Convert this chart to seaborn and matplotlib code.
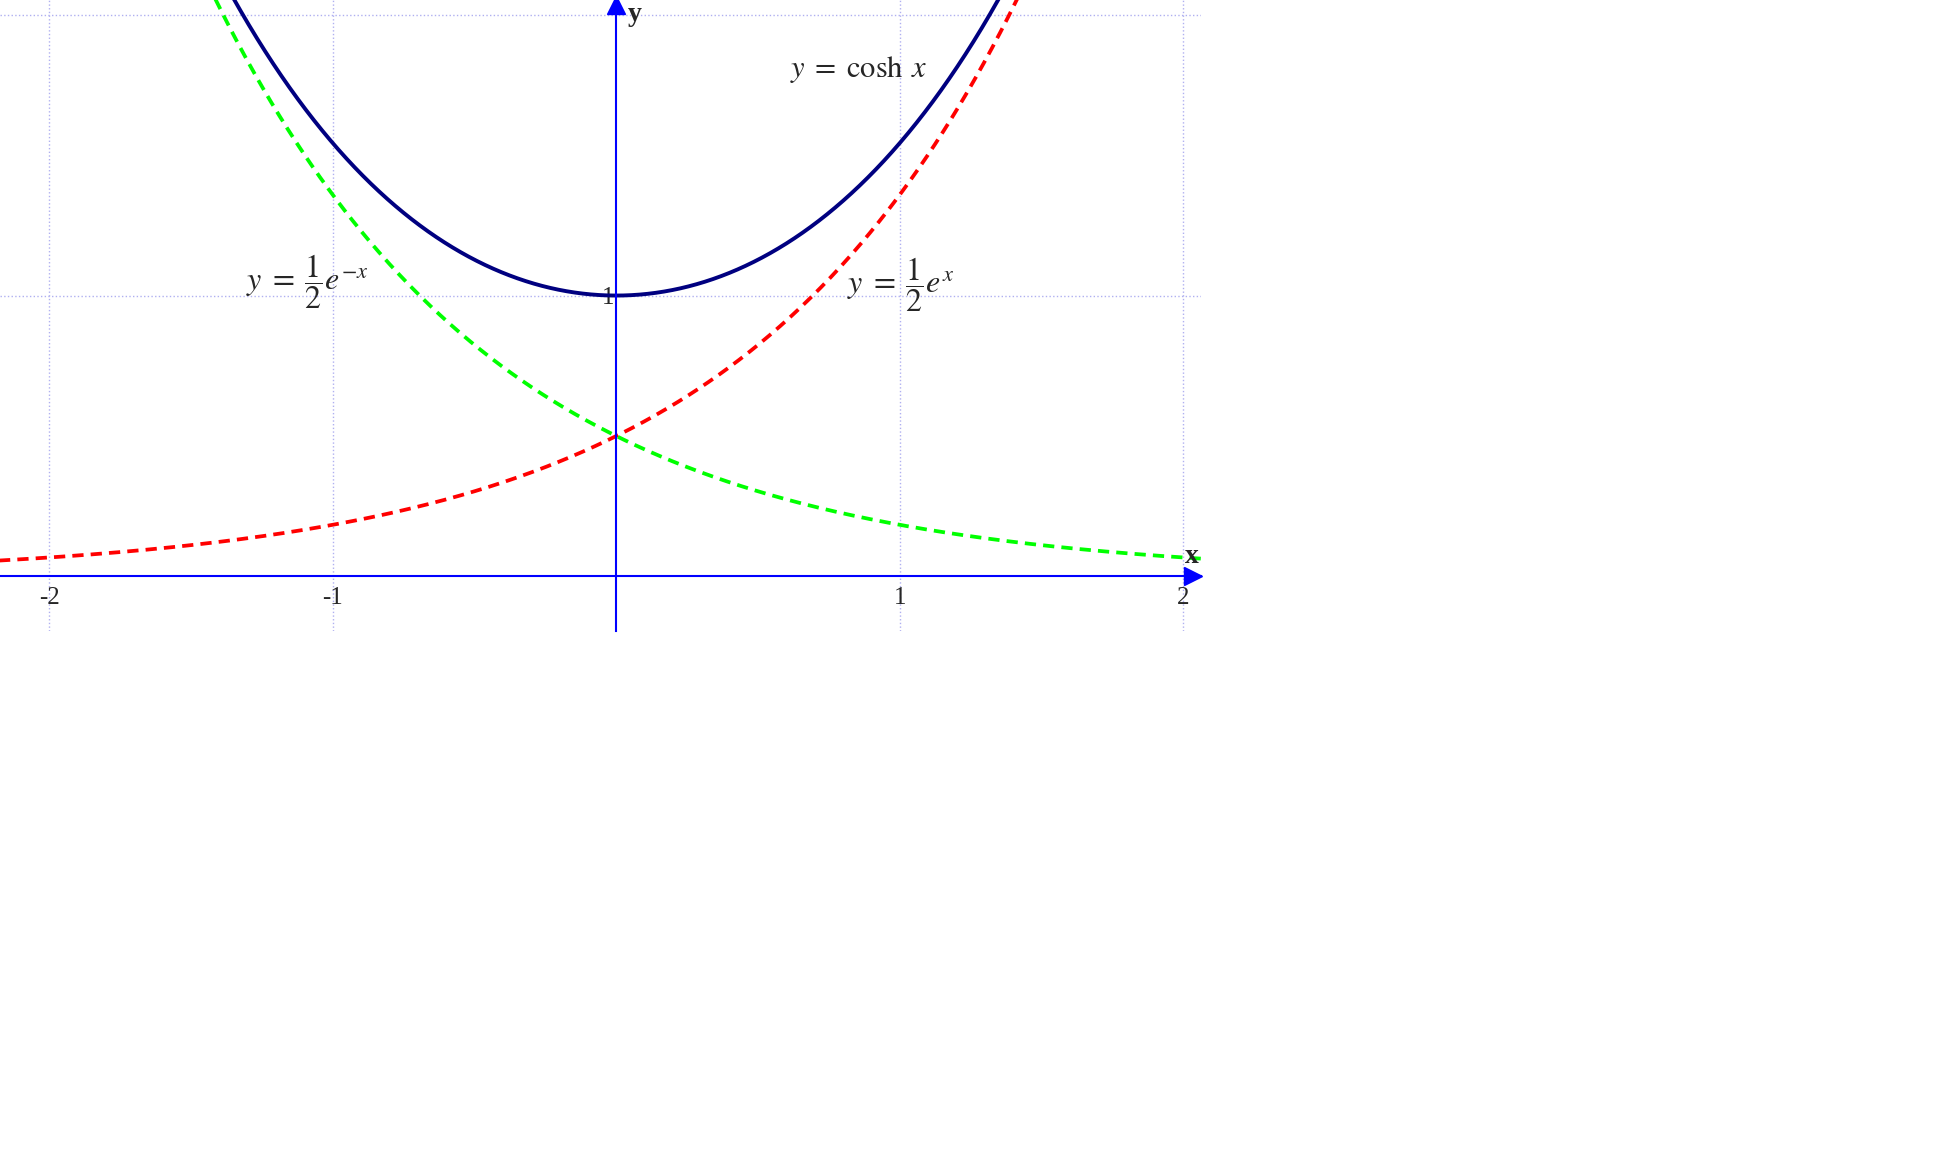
import numpy as np
import pandas as pd
import seaborn as sns
import matplotlib.pyplot as plt

# eixo x das curvas
x = np.linspace(-2.2, 2.1, 600)
cosh_y = np.cosh(x)
exp_pos = 0.5 * np.exp(x)
exp_neg = 0.5 * np.exp(-x)

x_ticks = [-2, -1, 1, 2]
x_tick_labels = ["-2", "-1", "1", "2"]
y_ticks = [1, 2]
y_tick_labels = ["1", ""]

df = pd.DataFrame({"x": x, "cosh": cosh_y, "pos": exp_pos, "neg": exp_neg})

sns.set_style("white")
plt.rcParams["font.family"] = ["Liberation Serif", "DejaVu Serif"]
plt.rcParams["mathtext.fontset"] = "stix"

fig = plt.figure(figsize=(19.52, 11.76), dpi=100)
ax = fig.add_axes([0, 1 - 631 / 1176, 1201 / 1952, 631 / 1176])

sns.lineplot(x="x", y="cosh", data=df, ax=ax, color="#000080", lw=2.8, sort=False)
sns.lineplot(x="x", y="pos", data=df, ax=ax, color="#ff0000", lw=2.7, sort=False,
             linestyle=(0, (3.0, 1.9)))
sns.lineplot(x="x", y="neg", data=df, ax=ax, color="#00ff00", lw=2.7, sort=False,
             linestyle=(0, (3.0, 1.9)))

ax.set_xlim(-2.173, 2.062)
ax.set_ylim(-0.194, 2.052)

# eixos no zero
for s in ["top", "right"]:
    ax.spines[s].set_visible(False)
ax.spines["left"].set_position(("data", 0))
ax.spines["bottom"].set_position(("data", 0))
ax.spines["left"].set_color("#0000ff")
ax.spines["bottom"].set_color("#0000ff")
ax.spines["left"].set_linewidth(1.5)
ax.spines["bottom"].set_linewidth(1.5)

ax.set_xticks(x_ticks)
ax.set_xticklabels(x_tick_labels)
ax.set_yticks(y_ticks)
ax.set_yticklabels(y_tick_labels)
ax.tick_params(axis="x", direction="inout", length=9, width=1, color="#0000ff",
               labelsize=18, pad=3)
ax.tick_params(axis="y", length=0, labelsize=18, pad=1)
ax.set_xlabel("")
ax.set_ylabel("")
ax.grid(True, color="#b0b0f0", linestyle=":", linewidth=1)

# setas dos eixos
ax.plot(0, 0.992, marker="^", color="#0000ff", markersize=13, clip_on=False,
        transform=ax.get_xaxis_transform(), zorder=5)
ax.plot(0.993, 0, marker=">", color="#0000ff", markersize=13, clip_on=False,
        transform=ax.get_yaxis_transform(), zorder=5)
ax.text(0.04, 2.0, "y", fontsize=20, fontweight="bold", va="center", ha="left")
ax.text(2.03, 0.07, "x", fontsize=20, fontweight="bold", va="center", ha="center")

ax.text(0.856, 1.805, r"$y\;=\;\cosh\;x$", fontsize=22, ha="center", va="center")
ax.text(-1.304, 1.05, r"$y\;=\;\dfrac{1}{2}e^{-x}$", fontsize=23, ha="left", va="center")
ax.text(0.812, 1.04, r"$y\;=\;\dfrac{1}{2}e^{x}$", fontsize=23, ha="left", va="center")

fig.savefig("out.png", dpi=100)
